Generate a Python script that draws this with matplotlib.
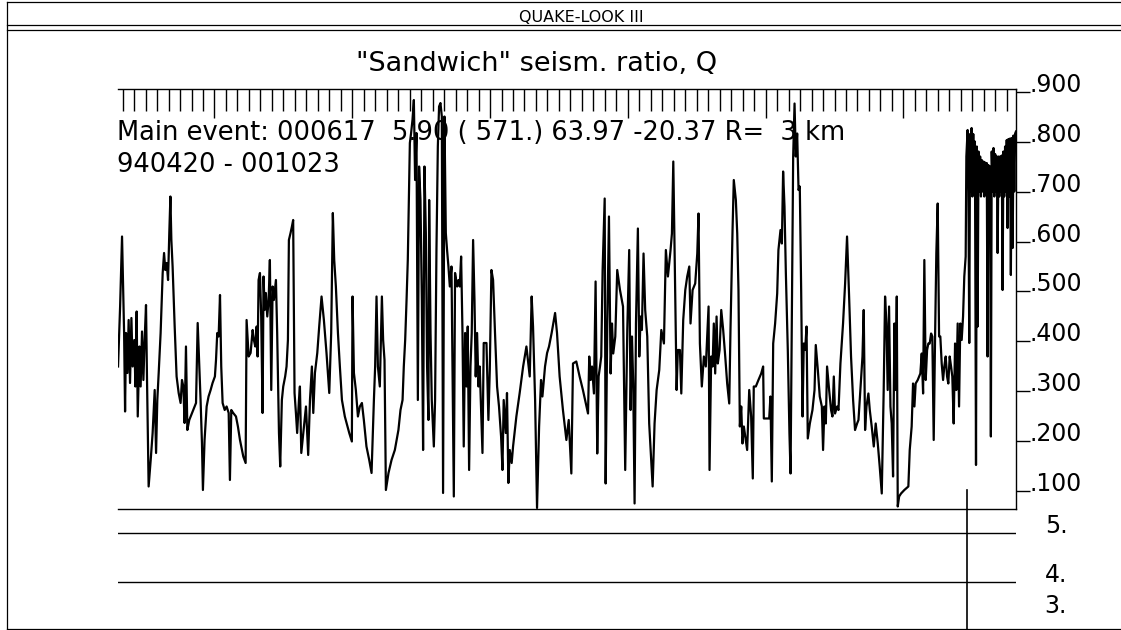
import matplotlib
matplotlib.use('Agg')
import matplotlib.pyplot as plt
from matplotlib.ticker import MultipleLocator
from matplotlib.transforms import blended_transform_factory

# sandwich ratio Q against time (decimal year) in pieces
t_9495 = [1994.300, 1994.315, 1994.329, 1994.344, 1994.351, 1994.358, 1994.368, 1994.377, 1994.387, 1994.397,
          1994.406, 1994.418, 1994.426, 1994.435, 1994.443, 1994.455, 1994.464, 1994.474, 1994.484, 1994.493,
          1994.503, 1994.510, 1994.522, 1994.537, 1994.551, 1994.566, 1994.576, 1994.585, 1994.595, 1994.609,
          1994.624, 1994.634, 1994.643, 1994.653, 1994.663, 1994.672, 1994.680, 1994.687, 1994.696, 1994.711,
          1994.725, 1994.740, 1994.754, 1994.764, 1994.774, 1994.783, 1994.793, 1994.803, 1994.817, 1994.837,
          1994.866, 1994.878, 1994.890, 1994.899, 1994.909, 1994.916, 1994.928, 1994.943, 1994.957, 1994.972,
          1994.986, 1995.003, 1995.011, 1995.020, 1995.030, 1995.040, 1995.049, 1995.059, 1995.074, 1995.088,
          1995.103, 1995.112, 1995.122, 1995.136, 1995.156, 1995.170, 1995.185, 1995.209, 1995.226, 1995.233,
          1995.248, 1995.262, 1995.277, 1995.286, 1995.296, 1995.306, 1995.313, 1995.320, 1995.330, 1995.339,
          1995.349, 1995.356, 1995.364, 1995.373, 1995.383, 1995.393, 1995.402, 1995.412, 1995.422, 1995.431,
          1995.446, 1995.455, 1995.468, 1995.477, 1995.489, 1995.499, 1995.513, 1995.523, 1995.533, 1995.540,
          1995.552, 1995.562, 1995.571, 1995.581, 1995.591, 1995.600, 1995.613]
q_9495 = [0.350, 0.470, 0.610, 0.417, 0.260, 0.417, 0.337, 0.443, 0.317, 0.447,
          0.350, 0.403, 0.310, 0.460, 0.250, 0.390, 0.310, 0.420, 0.323, 0.403,
          0.473, 0.330, 0.110, 0.163, 0.217, 0.303, 0.177, 0.283, 0.337, 0.417,
          0.537, 0.577, 0.543, 0.557, 0.523, 0.617, 0.690, 0.603, 0.550, 0.430,
          0.330, 0.297, 0.277, 0.323, 0.310, 0.237, 0.390, 0.223, 0.243, 0.257,
          0.277, 0.437, 0.350, 0.283, 0.197, 0.103, 0.203, 0.270, 0.290, 0.303,
          0.317, 0.330, 0.363, 0.417, 0.410, 0.493, 0.350, 0.277, 0.263, 0.270,
          0.257, 0.123, 0.263, 0.257, 0.250, 0.230, 0.203, 0.170, 0.157, 0.443,
          0.370, 0.377, 0.423, 0.403, 0.390, 0.430, 0.370, 0.523, 0.537, 0.450,
          0.257, 0.530, 0.463, 0.497, 0.450, 0.483, 0.563, 0.303, 0.510, 0.483,
          0.523, 0.417, 0.217, 0.150, 0.283, 0.310, 0.330, 0.350, 0.403, 0.603,
          0.617, 0.630, 0.643, 0.297, 0.257, 0.217, 0.283]

t_9597 = [1995.620, 1995.630, 1995.664, 1995.680, 1995.693, 1995.707, 1995.717, 1995.729, 1995.746, 1995.760,
          1995.777, 1995.794, 1995.813, 1995.833, 1995.847, 1995.859, 1995.869, 1995.881, 1995.896, 1995.910,
          1995.925, 1995.946, 1995.978, 1995.997, 1996.002, 1996.012, 1996.026, 1996.041, 1996.055, 1996.070,
          1996.084, 1996.103, 1996.123, 1996.140, 1996.157, 1996.166, 1996.176, 1996.186, 1996.200, 1996.215,
          1996.224, 1996.234, 1996.244, 1996.263, 1996.285, 1996.309, 1996.335, 1996.350, 1996.365, 1996.374,
          1996.384, 1996.394, 1996.403, 1996.418, 1996.427, 1996.437, 1996.447, 1996.456, 1996.466, 1996.476,
          1996.485, 1996.495, 1996.505, 1996.514, 1996.524, 1996.534, 1996.543, 1996.553, 1996.558, 1996.568,
          1996.577, 1996.592, 1996.601, 1996.611, 1996.621, 1996.630, 1996.640, 1996.650, 1996.659, 1996.669,
          1996.679, 1996.688, 1996.698, 1996.708, 1996.720, 1996.737, 1996.746, 1996.761, 1996.771, 1996.780,
          1996.790, 1996.800, 1996.809, 1996.819, 1996.829, 1996.838, 1996.848, 1996.858, 1996.867, 1996.877,
          1996.887, 1996.896, 1996.906, 1996.916, 1996.925, 1996.945, 1996.954, 1996.974, 1996.988, 1996.998,
          1997.010, 1997.022, 1997.036, 1997.051, 1997.065, 1997.080, 1997.090, 1997.099, 1997.114, 1997.123,
          1997.133, 1997.143, 1997.157, 1997.167, 1997.191, 1997.215, 1997.240, 1997.264, 1997.288, 1997.302,
          1997.312, 1997.327, 1997.341, 1997.356, 1997.370, 1997.380, 1997.399, 1997.414, 1997.428, 1997.447,
          1997.472, 1997.486]
q_9597 = [0.310, 0.177, 0.270, 0.173, 0.283, 0.350, 0.257, 0.337, 0.377, 0.430,
          0.490, 0.443, 0.377, 0.297, 0.417, 0.657, 0.563, 0.510, 0.417, 0.350,
          0.283, 0.250, 0.217, 0.200, 0.490, 0.337, 0.303, 0.250, 0.270, 0.277,
          0.243, 0.190, 0.163, 0.137, 0.283, 0.350, 0.490, 0.350, 0.310, 0.490,
          0.403, 0.363, 0.103, 0.137, 0.163, 0.183, 0.223, 0.263, 0.283, 0.350,
          0.403, 0.483, 0.563, 0.797, 0.817, 0.843, 0.883, 0.723, 0.817, 0.283,
          0.750, 0.683, 0.483, 0.183, 0.750, 0.617, 0.350, 0.243, 0.683, 0.417,
          0.283, 0.190, 0.283, 0.583, 0.790, 0.870, 0.877, 0.850, 0.097, 0.850,
          0.617, 0.583, 0.550, 0.510, 0.550, 0.090, 0.537, 0.510, 0.523, 0.510,
          0.570, 0.417, 0.190, 0.417, 0.310, 0.430, 0.143, 0.350, 0.417, 0.603,
          0.483, 0.330, 0.417, 0.310, 0.350, 0.177, 0.397, 0.397, 0.243, 0.343,
          0.543, 0.523, 0.417, 0.310, 0.270, 0.210, 0.143, 0.283, 0.217, 0.297,
          0.117, 0.183, 0.157, 0.190, 0.250, 0.297, 0.350, 0.390, 0.330, 0.490,
          0.430, 0.283, 0.067, 0.230, 0.323, 0.290, 0.350, 0.377, 0.390, 0.417,
          0.457, 0.417]

t_9799 = [1997.505, 1997.529, 1997.554, 1997.571, 1997.590, 1997.602, 1997.626, 1997.650, 1997.674, 1997.711,
          1997.720, 1997.730, 1997.740, 1997.754, 1997.766, 1997.778, 1997.788, 1997.798, 1997.807, 1997.817,
          1997.832, 1997.839, 1997.851, 1997.863, 1997.875, 1997.885, 1997.894, 1997.909, 1997.923, 1997.943,
          1997.965, 1997.981, 1997.996, 1998.010, 1998.020, 1998.030, 1998.039, 1998.049, 1998.059, 1998.073,
          1998.083, 1998.093, 1998.102, 1998.114, 1998.126, 1998.141, 1998.155, 1998.180, 1998.194, 1998.209,
          1998.228, 1998.243, 1998.262, 1998.276, 1998.291, 1998.310, 1998.320, 1998.330, 1998.344, 1998.354,
          1998.363, 1998.378, 1998.388, 1998.402, 1998.417, 1998.431, 1998.446, 1998.455, 1998.470, 1998.489,
          1998.504, 1998.513, 1998.523, 1998.537, 1998.552, 1998.566, 1998.576, 1998.586, 1998.593, 1998.605,
          1998.615, 1998.624, 1998.634, 1998.644, 1998.653, 1998.666, 1998.678, 1998.692, 1998.707, 1998.721,
          1998.736, 1998.745, 1998.760, 1998.769, 1998.784, 1998.794, 1998.803, 1998.813, 1998.823, 1998.832,
          1998.842, 1998.852, 1998.866, 1998.881, 1998.895, 1998.907, 1998.914, 1998.929, 1998.948, 1998.968,
          1998.982, 1998.987, 1999.026, 1999.035, 1999.045, 1999.055, 1999.069, 1999.084, 1999.093, 1999.108,
          1999.118, 1999.127, 1999.137, 1999.147, 1999.161, 1999.173]
q_9799 = [0.330, 0.263, 0.203, 0.243, 0.136, 0.356, 0.360, 0.330, 0.303, 0.256,
          0.370, 0.323, 0.350, 0.296, 0.520, 0.176, 0.330, 0.350, 0.370, 0.543,
          0.686, 0.116, 0.436, 0.650, 0.336, 0.436, 0.376, 0.410, 0.543, 0.503,
          0.470, 0.143, 0.423, 0.583, 0.263, 0.410, 0.316, 0.076, 0.436, 0.626,
          0.370, 0.450, 0.423, 0.576, 0.463, 0.410, 0.236, 0.110, 0.236, 0.303,
          0.343, 0.423, 0.396, 0.583, 0.530, 0.583, 0.616, 0.760, 0.490, 0.303,
          0.383, 0.383, 0.296, 0.443, 0.503, 0.530, 0.550, 0.436, 0.503, 0.516,
          0.576, 0.656, 0.396, 0.310, 0.370, 0.350, 0.410, 0.470, 0.143, 0.370,
          0.350, 0.436, 0.336, 0.450, 0.356, 0.383, 0.463, 0.423, 0.370, 0.316,
          0.276, 0.423, 0.623, 0.723, 0.683, 0.616, 0.503, 0.230, 0.270, 0.196,
          0.230, 0.210, 0.183, 0.303, 0.250, 0.126, 0.310, 0.310, 0.323, 0.336,
          0.350, 0.246, 0.246, 0.290, 0.120, 0.396, 0.436, 0.496, 0.583, 0.623,
          0.596, 0.740, 0.670, 0.536, 0.383, 0.216]

t_9900 = [1999.181, 1999.190, 1999.200, 1999.210, 1999.219, 1999.229, 1999.239, 1999.248, 1999.258, 1999.268,
          1999.277, 1999.287, 1999.297, 1999.306, 1999.321, 1999.340, 1999.355, 1999.364, 1999.379, 1999.393,
          1999.408, 1999.417, 1999.427, 1999.437, 1999.446, 1999.461, 1999.475, 1999.485, 1999.495, 1999.504,
          1999.519, 1999.529, 1999.543, 1999.562, 1999.577, 1999.591, 1999.606, 1999.620, 1999.635, 1999.649,
          1999.664, 1999.674, 1999.688, 1999.703, 1999.712, 1999.722, 1999.732, 1999.746, 1999.756, 1999.770,
          1999.785, 1999.799, 1999.814, 1999.828, 1999.843, 1999.857, 1999.867, 1999.877, 1999.886, 1999.896,
          1999.906, 1999.915, 1999.925, 1999.935, 1999.944, 1999.952, 1999.959, 1999.969, 1999.983, 2000.007,
          2000.036, 2000.046, 2000.060, 2000.070, 2000.080, 2000.089, 2000.104, 2000.123, 2000.133, 2000.143,
          2000.152, 2000.162, 2000.172, 2000.181, 2000.191, 2000.201, 2000.210, 2000.220, 2000.230, 2000.239,
          2000.249, 2000.259, 2000.268, 2000.278, 2000.288, 2000.297, 2000.307, 2000.317, 2000.326, 2000.336,
          2000.346, 2000.355, 2000.365, 2000.375, 2000.384, 2000.394, 2000.404, 2000.413, 2000.423, 2000.433,
          2000.442, 2000.452, 2000.457, 2000.466]
q_9900 = [0.136, 0.436, 0.770, 0.876, 0.770, 0.816, 0.703, 0.710, 0.503, 0.250,
          0.396, 0.383, 0.430, 0.206, 0.236, 0.263, 0.303, 0.393, 0.343, 0.290,
          0.270, 0.183, 0.270, 0.236, 0.350, 0.303, 0.263, 0.250, 0.330, 0.256,
          0.270, 0.263, 0.356, 0.436, 0.516, 0.610, 0.490, 0.370, 0.283, 0.223,
          0.236, 0.243, 0.303, 0.370, 0.463, 0.223, 0.270, 0.296, 0.263, 0.230,
          0.190, 0.236, 0.196, 0.150, 0.096, 0.303, 0.490, 0.436, 0.303, 0.470,
          0.270, 0.236, 0.130, 0.436, 0.303, 0.490, 0.070, 0.090, 0.096, 0.103,
          0.110, 0.183, 0.230, 0.316, 0.270, 0.316, 0.323, 0.336, 0.376, 0.296,
          0.563, 0.323, 0.383, 0.396, 0.396, 0.416, 0.410, 0.203, 0.410, 0.576,
          0.676, 0.410, 0.410, 0.356, 0.323, 0.350, 0.370, 0.330, 0.316, 0.370,
          0.350, 0.330, 0.236, 0.396, 0.303, 0.436, 0.270, 0.436, 0.403, 0.450,
          0.530, 0.570, 0.770, 0.823]

# after the main shock: dense, high values with deep drops
t_after = [2000.472, 2000.478, 2000.484, 2000.489, 2000.495, 2000.501, 2000.507, 2000.513, 2000.519, 2000.527,
           2000.533, 2000.539, 2000.545, 2000.551, 2000.557, 2000.563, 2000.569, 2000.575, 2000.581, 2000.587,
           2000.593, 2000.599, 2000.605, 2000.611, 2000.617, 2000.623, 2000.629, 2000.635, 2000.641, 2000.648,
           2000.654, 2000.660, 2000.666, 2000.672, 2000.678, 2000.684, 2000.690, 2000.696, 2000.702, 2000.708,
           2000.714, 2000.720, 2000.726, 2000.732, 2000.738, 2000.744, 2000.750, 2000.756, 2000.762, 2000.768,
           2000.774, 2000.780, 2000.786, 2000.793, 2000.799, 2000.805, 2000.811, 2000.817]
q_after = [0.700, 0.397, 0.815, 0.700, 0.827, 0.690, 0.815, 0.710, 0.800, 0.153,
           0.790, 0.430, 0.780, 0.700, 0.770, 0.690, 0.763, 0.700, 0.760, 0.690,
           0.758, 0.700, 0.757, 0.370, 0.753, 0.690, 0.750, 0.210, 0.780, 0.700,
           0.787, 0.690, 0.775, 0.700, 0.770, 0.577, 0.770, 0.690, 0.770, 0.700,
           0.772, 0.503, 0.780, 0.690, 0.790, 0.700, 0.803, 0.627, 0.805, 0.690,
           0.806, 0.533, 0.807, 0.587, 0.812, 0.700, 0.816, 0.820]

t_start, t_end = 1994.30, 2000.817
q_ticks = [0.1, 0.2, 0.3, 0.4, 0.5, 0.6, 0.7, 0.8, 0.9]
mag_levels = [4, 5]
mag_labels = [('5.', 5.0), ('4.', 4.0), ('3.', 3.35)]
t_main, mag_main = 2000.460, 5.9

header = 'QUAKE-LOOK III'
title = '"Sandwich" seism. ratio, Q'
event_line = 'Main event: 000617  5.90 ( 571.) 63.97 -20.37 R=  3 km'
period_line = '940420 - 001023'

t = t_9495 + t_9597 + t_9799 + t_9900 + t_after
q = q_9495 + q_9597 + q_9799 + q_9900 + q_after
assert len(t) == len(q)

fig = plt.figure(figsize=(11.21, 6.30), dpi=100)

# frame and texts in pixel units of the page
deco = fig.add_axes([0, 0, 1, 1], zorder=0)
deco.set_xlim(0, 1121)
deco.set_ylim(630, 0)
deco.axis('off')
for y in [2, 25, 30, 629]:
    deco.plot([7, 1121], [y, y], color='black', lw=0.9)
deco.plot([7, 7], [2, 629], color='black', lw=0.9)
deco.text(581, 21.5, header, ha='center', va='baseline', fontsize=11.5)
deco.text(537, 71, title, ha='center', va='baseline', fontsize=19.5)
deco.text(117, 140, event_line, ha='left', va='baseline', fontsize=18.5)
deco.text(117, 172, period_line, ha='left', va='baseline', fontsize=18.5)

ax = fig.add_axes([0.1053, 0.1921, 0.8010, 0.6666], zorder=2)
ax.set_facecolor('none')
ax.plot(t, q, color='black', lw=1.6)
ax.set_xlim(t_start, t_end)
ax.set_ylim(0.065, 0.905)
ax.spines['left'].set_visible(False)
for s in ['top', 'right', 'bottom']:
    ax.spines[s].set_linewidth(1.0)
ax.xaxis.tick_top()
ax.xaxis.set_major_locator(MultipleLocator(1))
ax.xaxis.set_minor_locator(MultipleLocator(1 / 12))
ax.tick_params(axis='x', which='major', direction='in', length=21, width=1, labeltop=False)
ax.tick_params(axis='x', which='minor', direction='in', length=16, width=1)
ax.yaxis.tick_right()
ax.set_yticks(q_ticks, labels=[f'{v:.3f}'[1:] for v in q_ticks], va='baseline')
ax.tick_params(axis='y', direction='out', length=10, width=1, pad=0, labelsize=17)

# magnitude strip underneath
ax2 = fig.add_axes([0.1053, 0.0, 0.8010, 0.1921], zorder=1)
ax2.set_facecolor('none')
ax2.set_xlim(t_start, t_end)
ax2.set_ylim(3, 5.5)
for s in ax2.spines.values():
    s.set_visible(False)
ax2.set_xticks([])
ax2.set_yticks([])
for m in mag_levels:
    ax2.axhline(m, color='black', lw=1.0)
tr = blended_transform_factory(ax2.transAxes, ax2.transData)
for lab, m in mag_labels:
    ax2.text(1.032, m, lab, transform=tr, va='baseline', ha='left', fontsize=17)
ax2.plot([t_main, t_main], [3, mag_main], color='black', lw=1.2, clip_on=False)

fig.savefig('out.png', dpi=100)
